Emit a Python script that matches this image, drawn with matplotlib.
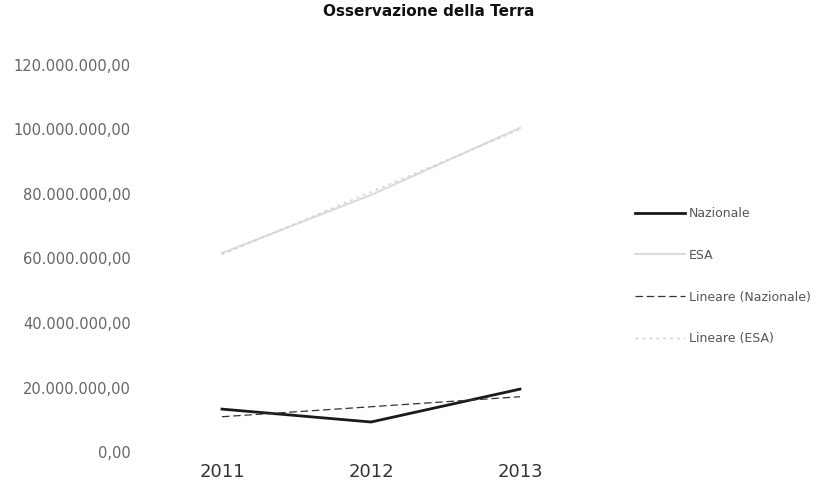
import matplotlib
matplotlib.use("Agg")
import matplotlib.pyplot as plt
from matplotlib.ticker import FuncFormatter

# Data
anni = ["2011", "2012", "2013"]
nazionale = [13.3e6, 9.3e6, 19.5e6]
esa = [61.7e6, 79.7e6, 100.5e6]
y_ticks = [0, 20e6, 40e6, 60e6, 80e6, 100e6, 120e6]


def trend(values):
    # least squares line, like the Excel "Lineare" trendline
    n = len(values)
    xs = list(range(n))
    mx = sum(xs) / n
    my = sum(values) / n
    b = sum((x - mx) * (y - my) for x, y in zip(xs, values)) / sum((x - mx) ** 2 for x in xs)
    a = my - b * mx
    return [a + b * x for x in xs]


def it_format(v, pos):
    s = f"{v:,.2f}"
    return s.replace(",", "X").replace(".", ",").replace("X", ".")


fig = plt.figure(figsize=(8.4, 4.96), dpi=100)
ax = fig.add_axes([147.5 / 840, 44 / 496, 447 / 840, 387 / 496])

x = list(range(len(anni)))
ax.plot(x, nazionale, color="#1a1a1a", lw=2.0, label="Nazionale")
ax.plot(x, esa, color="#dcdcdc", lw=1.5, label="ESA")
ax.plot(x, trend(nazionale), color="#333333", lw=0.9, ls=(0, (6, 3)), label="Lineare (Nazionale)")
ax.plot(x, trend(esa), color="#cfcfcf", lw=1.0, ls=(0, (2, 3)), label="Lineare (ESA)")

ax.set_xlim(-0.5, 2.5)
ax.set_ylim(0, 120e6)
ax.set_xticks(x)
ax.set_xticklabels(anni)
ax.set_yticks(y_ticks)
ax.yaxis.set_major_formatter(FuncFormatter(it_format))

for s in ax.spines.values():
    s.set_visible(False)
ax.tick_params(axis="y", length=0, pad=12, labelsize=10.5, labelcolor="#666666")
ax.tick_params(axis="x", length=0, pad=8, labelsize=13, labelcolor="#333333")

fig.text(429 / 840, 1 - 12 / 496, "Osservazione della Terra", ha="center", va="center",
         fontsize=11, fontweight="bold", color="#111111")

fig.legend(loc="upper left", bbox_to_anchor=(635 / 840, 1 - 207 / 496), frameon=False,
           borderpad=0, borderaxespad=0, fontsize=9, handlelength=4, handletextpad=0.3,
           labelspacing=2.3, labelcolor="#555555")

fig.savefig("out.png", dpi=100)
